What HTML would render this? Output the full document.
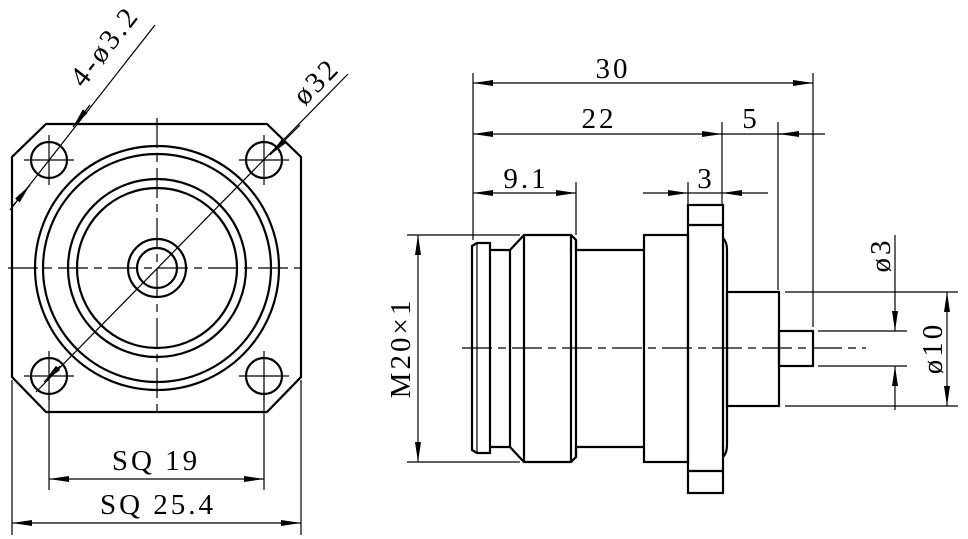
<!DOCTYPE html>
<html><head><meta charset="utf-8"><style>
html,body{margin:0;padding:0;background:#fff;}
svg{display:block;}
text{font-family:"Liberation Serif","Noto Serif CJK SC",serif;font-size:29px;letter-spacing:3px;fill:#000;}
</style></head><body>
<svg width="968" height="539" viewBox="0 0 968 539" xmlns="http://www.w3.org/2000/svg">
<defs>
<marker id="a" viewBox="0 0 20 6" refX="20" refY="3" markerWidth="20" markerHeight="6" markerUnits="userSpaceOnUse" orient="auto-start-reverse">
<path d="M0,0 L20,3 L0,6 Z" fill="#000"/>
</marker>
</defs>
<g fill="none" stroke="#000" stroke-width="2.2">
<path d="M46,124 L267,124 L301,157 L301,377 L267,412 L46,412 L12,377 L12,157 Z"/>
<circle cx="157" cy="268" r="122"/>
<circle cx="157" cy="268" r="114"/>
<circle cx="157" cy="268" r="89"/>
<circle cx="157" cy="268" r="80"/>
<circle cx="157" cy="268" r="29"/>
<circle cx="157" cy="268" r="20"/>
<circle cx="49" cy="160" r="18"/>
<circle cx="264" cy="160" r="18"/>
<circle cx="49" cy="376" r="18"/>
<circle cx="264" cy="376" r="18"/>
</g>
<g fill="none" stroke="#000" stroke-width="1.2">
<line x1="8" y1="268" x2="305" y2="268" stroke-dasharray="30,6,8,6"/>
<line x1="157" y1="118" x2="157" y2="416" stroke-dasharray="30,6,8,6"/>
<line x1="24" y1="160" x2="74" y2="160"/><line x1="49" y1="135" x2="49" y2="185"/>
<line x1="239" y1="160" x2="289" y2="160"/><line x1="264" y1="135" x2="264" y2="185"/>
<line x1="24" y1="376" x2="74" y2="376"/><line x1="49" y1="351" x2="49" y2="400"/>
<line x1="239" y1="376" x2="289" y2="376"/><line x1="264" y1="351" x2="264" y2="400"/>
<line x1="36" y1="392" x2="348" y2="74"/>
<line x1="60" y1="366" x2="44" y2="382" marker-end="url(#a)"/>
<line x1="300" y1="125" x2="270" y2="155" marker-end="url(#a)"/>
<line x1="10" y1="210" x2="155" y2="25"/>
<line x1="90" y1="105" x2="73" y2="127" marker-end="url(#a)"/>
<line x1="12" y1="207" x2="30" y2="185" marker-end="url(#a)"/>
<line x1="49" y1="390" x2="49" y2="490"/><line x1="264" y1="390" x2="264" y2="490"/>
<line x1="12" y1="380" x2="12" y2="535"/><line x1="301" y1="380" x2="301" y2="535"/>
<line x1="49" y1="479" x2="264" y2="479" marker-start="url(#a)" marker-end="url(#a)"/>
<line x1="12" y1="523" x2="301" y2="523" marker-start="url(#a)" marker-end="url(#a)"/>
</g>
<text x="156" y="470" text-anchor="middle">SQ 19</text>
<text x="158" y="514" text-anchor="middle">SQ 25.4</text>
<text transform="translate(112,52) rotate(-52)" text-anchor="middle">4-ø3.2</text>
<text transform="translate(323,88) rotate(-45)" text-anchor="middle">ø32</text>

<g fill="none" stroke="#000" stroke-width="2.2">
<path d="M472,246 L477,243 L490,243 L490,453 L477,453 L472,450 Z"/>
<line x1="477" y1="243" x2="477" y2="453" stroke-width="1.2"/>
<path d="M490,250 L510,250 L524,235 L571,235 L576,240 L576,250 L644,250"/>
<path d="M490,447 L510,447 L524,462 L571,462 L576,457 L576,447 L644,447"/>
<line x1="510" y1="250" x2="510" y2="447"/>
<line x1="524" y1="235" x2="524" y2="462"/>
<line x1="571" y1="235" x2="571" y2="462"/>
<line x1="576" y1="240" x2="576" y2="457"/>
<rect x="644" y="235" width="44" height="227"/>
<rect x="688" y="205" width="35" height="288"/>
<line x1="688" y1="225" x2="723" y2="225"/>
<line x1="688" y1="471" x2="723" y2="471"/>
<path d="M723,238 Q727,242 727,250 L727,445 Q727,453 723,457"/>
<rect x="727" y="292" width="52" height="114"/>
<rect x="779" y="331" width="34" height="35"/>
</g>
<g fill="none" stroke="#000" stroke-width="1.2">
<line x1="462" y1="348" x2="866" y2="348" stroke-dasharray="30,6,8,6"/>
<line x1="473" y1="73" x2="473" y2="240"/>
<line x1="813" y1="73" x2="813" y2="327"/>
<line x1="722" y1="122" x2="722" y2="205"/>
<line x1="778" y1="122" x2="778" y2="290"/>
<line x1="576" y1="182" x2="576" y2="235"/>
<line x1="688" y1="182" x2="688" y2="205"/>
<line x1="473" y1="83" x2="813" y2="83" marker-start="url(#a)" marker-end="url(#a)"/>
<line x1="473" y1="134" x2="722" y2="134" marker-start="url(#a)" marker-end="url(#a)"/>
<line x1="722" y1="134" x2="825" y2="134"/>
<line x1="800" y1="134" x2="779" y2="134" marker-end="url(#a)"/>
<line x1="473" y1="193" x2="576" y2="193" marker-start="url(#a)" marker-end="url(#a)"/>
<line x1="643" y1="193" x2="688" y2="193" marker-end="url(#a)"/>
<line x1="768" y1="193" x2="722" y2="193" marker-end="url(#a)"/>
<line x1="688" y1="193" x2="722" y2="193"/>
<line x1="407" y1="235" x2="520" y2="235"/>
<line x1="407" y1="462" x2="520" y2="462"/>
<line x1="418" y1="235" x2="418" y2="462" marker-start="url(#a)" marker-end="url(#a)"/>
<line x1="818" y1="331" x2="907" y2="331"/>
<line x1="818" y1="366" x2="907" y2="366"/>
<line x1="785" y1="292" x2="958" y2="292"/>
<line x1="785" y1="406" x2="958" y2="406"/>
<line x1="895" y1="235" x2="895" y2="331" marker-end="url(#a)"/>
<line x1="895" y1="410" x2="895" y2="366" marker-end="url(#a)"/>
<line x1="947" y1="292" x2="947" y2="406" marker-start="url(#a)" marker-end="url(#a)"/>
</g>
<text x="613" y="78" text-anchor="middle">30</text>
<text x="599" y="128" text-anchor="middle">22</text>
<text x="751" y="128" text-anchor="middle">5</text>
<text x="526" y="188" text-anchor="middle">9.1</text>
<text x="706" y="188" text-anchor="middle">3</text>
<text transform="translate(410,348) rotate(-90)" text-anchor="middle">M20×1</text>
<text transform="translate(890,255) rotate(-90)" text-anchor="middle">ø3</text>
<text transform="translate(942,348) rotate(-90)" text-anchor="middle">ø10</text>
</svg>
</body></html>
